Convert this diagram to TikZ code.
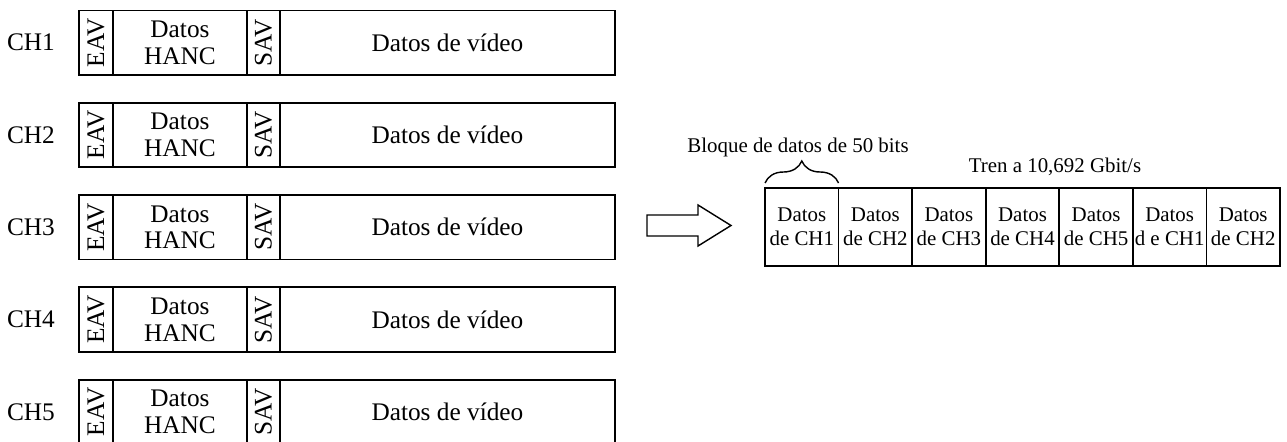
\documentclass[tikz,border=0pt]{standalone}
\usepackage{fontspec}
\setmainfont{Liberation Serif}
\usetikzlibrary{positioning, decorations.pathreplacing}
\tikzset{%
	every field/.style={
		draw,
		line width=1pt,
		inner sep=0pt,
		outer sep=0pt,
		minimum height=1.29cm,
		align=center,
		font=\fontsize{14.4}{15.3}\selectfont
	},
	every slot/.style={
		draw,
		line width=1pt,
		inner sep=0pt,
		outer sep=0pt,
		minimum width=1.4714cm,
		minimum height=1.56cm,
		align=center,
		font=\fontsize{11.9}{13.6}\selectfont
	},
	small text/.style={
		inner sep=0pt,
		font=\fontsize{11.9}{13.6}\selectfont
	},
}

\begin{document}
\begin{tikzpicture}[x=0.02cm, y=-0.02cm, node distance=0pt]
	\useasboundingbox (0,0) rectangle (1287,442);
	% five input channels
	\foreach \i in {1,...,5} {
		\node[every field, draw=none] (ch\i) at (31, {42.7+(\i-1)*92.3}) {CH\i};
		\node[every field, minimum width=0.68cm] (eav\i) at (96, {42.7+(\i-1)*92.3}) {\rotatebox{90}{EAV}};
		\node[every field, minimum width=2.68cm, right=of eav\i] (hanc\i) {Datos\\HANC};
		\node[every field, minimum width=0.66cm, right=of hanc\i] (sav\i) {\rotatebox{90}{SAV}};
		\node[every field, minimum width=6.7cm, right=of sav\i] (video\i) {Datos de vídeo};
	}
	% multiplexing arrow
	\draw[line width=0.8pt] (647,215) -- (698,215) -- (698,205) -- (731,225.5) -- (698,246) -- (698,236) -- (647,236) -- cycle;
	% output stream
	\foreach \t [count=\k] in {de CH1, de CH2, de CH3, de CH4, de CH5, d e CH1, de CH2} {
		\node[every slot] (slot\k) at ({765+(\k-0.5)*73.57}, 227) {Datos\\\t};
	}
	\draw[decorate, decoration={brace, amplitude=0.44cm, raise=0.1cm}, line width=0.8pt]
		(slot1.north west) -- (slot1.north east);
	\node[small text, anchor=base] (bloque) at (798,153) {Bloque de datos de 50 bits};
	\node[small text, anchor=base] (tren) at (1055,173) {Tren a 10,692 Gbit/s};
\end{tikzpicture}
\end{document}
